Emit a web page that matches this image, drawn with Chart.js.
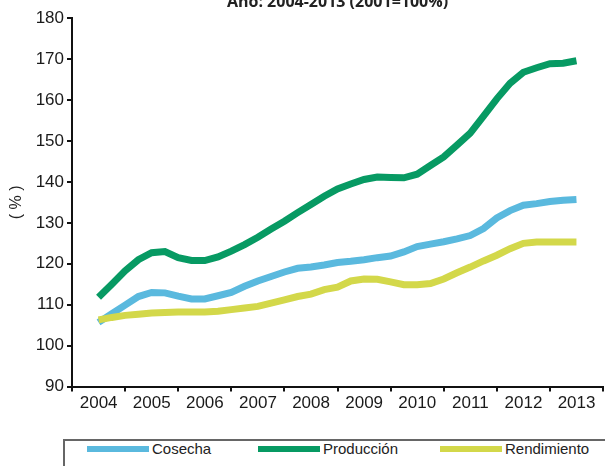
<!DOCTYPE html>
<html>
<head>
<meta charset="utf-8">
<script src="https://cdn.jsdelivr.net/npm/chart.js@4.4.1/dist/chart.umd.min.js"></script>
<style>
html, body { margin: 0; padding: 0; background: #fff; width: 605px; height: 466px; overflow: hidden; }
#wrap { position: absolute; left: 0; top: -14px; width: 605px; height: 436px; }
#legend { position: absolute; left: 63px; top: 439px; width: 570px; height: 45px; border: 2px solid #666;
  font: 15px "Liberation Sans Narrow", "Liberation Sans", sans-serif; color: #222; }
.item { position: absolute; top: 0; height: 18px; line-height: 18px; white-space: nowrap; }
.item span.sw { position: absolute; left: 0; top: 6px; width: 62px; height: 6px; }
.item span.tx { position: absolute; left: 65px; top: 0; }
</style>
</head>
<body>
<div id="wrap"><canvas id="chart"></canvas></div>
<div id="legend"></div>
<script>
const years = ['2004', '2005', '2006', '2007', '2008', '2009', '2010', '2011', '2012', '2013']

// quarterly readings, 2004 Q1 .. 2013 Q1
const cosecha = [105.7, 107.8, 109.9, 112.0, 113.0, 112.9, 112.1, 111.4, 111.4, 112.2,
    113.0, 114.5, 115.8, 116.9, 118.0, 118.9, 119.2, 119.7, 120.3, 120.6,
    121.0, 121.5, 121.9, 122.9, 124.2, 124.8, 125.4, 126.1, 126.9, 128.6,
    131.2, 133.0, 134.3, 134.7, 135.2, 135.5, 135.7]
const produccion = [111.8, 115.0, 118.3, 121.0, 122.7, 123.0, 121.5, 120.8, 120.8, 121.7,
    123.1, 124.7, 126.5, 128.5, 130.4, 132.5, 134.5, 136.5, 138.3, 139.5,
    140.6, 141.2, 141.1, 141.0, 141.9, 144.0, 146.1, 149.0, 151.9, 156.1,
    160.3, 164.1, 166.8, 167.9, 168.9, 169.0, 169.6]
const rendimiento = [106.3, 106.9, 107.4, 107.7, 108.0, 108.1, 108.2, 108.2, 108.2, 108.4,
    108.8, 109.2, 109.6, 110.4, 111.2, 112.0, 112.6, 113.7, 114.3, 115.8,
    116.3, 116.2, 115.6, 114.9, 114.9, 115.2, 116.3, 117.8, 119.2, 120.7,
    122.1, 123.7, 125.0, 125.3, 125.3, 125.3, 125.3]

const seriesNames = ['Cosecha', 'Producción', 'Rendimiento']
const seriesColors = ['#5ab9de', '#079a63', '#d3d84a']

const toPoints = (vals) => vals.map((v, i) => ({ x: Number(years[0]) + i / 4, y: v }))

const tickFont = { family: '"Liberation Sans Narrow", "Liberation Sans", sans-serif', size: 17 }

const ctx = document.getElementById('chart')
const chart = new Chart(ctx, {
    type: 'line',
    data: {
        datasets: [
            { label: seriesNames[0], data: toPoints(cosecha), borderColor: seriesColors[0], order: 1 },
            { label: seriesNames[1], data: toPoints(produccion), borderColor: seriesColors[1], order: 2 },
            { label: seriesNames[2], data: toPoints(rendimiento), borderColor: seriesColors[2], order: 0 }
        ].map(d => Object.assign(d, { borderWidth: 7, pointRadius: 0, tension: 0, fill: false }))
    },
    options: {
        responsive: true,
        maintainAspectRatio: false,
        animation: false,
        layout: { padding: { left: 0, right: 0, bottom: 6, top: 0 } },
        plugins: {
            legend: { display: false },
            tooltip: { enabled: false },
            title: {
                display: true,
                text: 'Año: 2004-2013 (2001=100%)',
                fullSize: false,
                color: '#222',
                font: { family: '"Open Sans", sans-serif', size: 16, weight: 'bold' },
                padding: { top: 7, bottom: 6 }
            }
        },
        scales: {
            x: {
                type: 'linear',
                min: 2003.5,
                max: 2013.5,
                afterBuildTicks: (scale) => {
                    scale.ticks = years.map(y => ({ value: Number(y) - 0.5 })).concat([{ value: 2013.5 }])
                },
                ticks: {
                    autoSkip: false,
                    maxRotation: 0,
                    labelOffset: 26.65,
                    padding: 2,
                    color: '#1a1a1a',
                    font: tickFont,
                    callback: (value, index) => years[index] || ''
                },
                grid: { drawOnChartArea: false, tickLength: 5, color: '#111', lineWidth: 2 },
                border: { display: true, color: '#111', width: 2 }
            },
            y: {
                min: 90,
                max: 180,
                afterFit: (scale) => { scale.width = 72 },
                ticks: { stepSize: 10, padding: 3, color: '#1a1a1a', font: tickFont },
                grid: { drawOnChartArea: false, tickLength: 5, color: '#111', lineWidth: 2 },
                border: { display: true, color: '#111', width: 2 },
                title: {
                    display: true,
                    text: '( % )',
                    color: '#222',
                    padding: { top: 7, bottom: 0 },
                    font: { family: '"Liberation Sans Narrow", sans-serif', size: 16 }
                }
            }
        }
    }
})

// legend built from the datasets
const legendX = [22, 193, 375]
const legendEl = document.getElementById('legend')
chart.data.datasets.forEach((ds, i) => {
    const item = document.createElement('div')
    item.className = 'item'
    item.style.left = legendX[i] + 'px'
    item.style.top = '-1px'
    item.innerHTML = '<span class="sw" style="background:' + ds.borderColor + '"></span><span class="tx">' + ds.label + '</span>'
    legendEl.appendChild(item)
})
</script>
</body>
</html>
